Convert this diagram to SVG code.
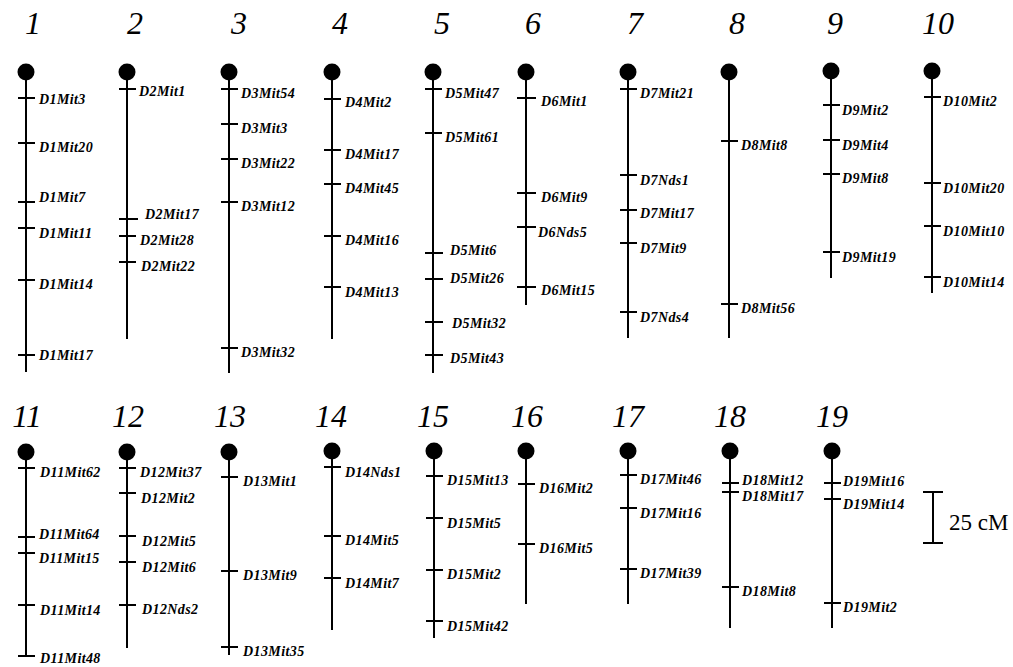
<svg xmlns="http://www.w3.org/2000/svg" width="1013" height="667" viewBox="0 0 1013 667">
<style>
.bg{fill:#fff}
.chr{stroke:#000;stroke-width:2;fill:none}
.cen{fill:#000}
.num{font-family:"Liberation Serif",serif;font-style:italic;font-size:32px;text-anchor:middle;fill:#000}
.lab{font-family:"Liberation Serif",serif;font-style:italic;font-weight:bold;font-size:14px;letter-spacing:0.4px;fill:#000}
.scale{font-family:"Liberation Serif",serif;font-size:23px;fill:#000}
</style>
<rect class="bg" x="0" y="0" width="1013" height="667"/>
<g id="chr1">
<text class="num" x="33" y="34">1</text>
<circle class="cen" cx="26" cy="72" r="8.5"/>
<path class="chr" d="M26 72V372M18 98h17M18 143h17M18 202h17M18 228h17M18 280h17M18 355h17"/>
<text class="lab" x="39" y="104">D1Mit3</text>
<text class="lab" x="39" y="152">D1Mit20</text>
<text class="lab" x="39" y="202">D1Mit7</text>
<text class="lab" x="39" y="238">D1Mit11</text>
<text class="lab" x="39" y="289">D1Mit14</text>
<text class="lab" x="39" y="360">D1Mit17</text>
</g>
<g id="chr2">
<text class="num" x="135" y="34">2</text>
<circle class="cen" cx="127" cy="72" r="8.5"/>
<path class="chr" d="M127 72V339M119 89h17M119 219h19M119 236h17M119 262h17"/>
<text class="lab" x="139" y="96">D2Mit1</text>
<text class="lab" x="145" y="219">D2Mit17</text>
<text class="lab" x="140" y="245">D2Mit28</text>
<text class="lab" x="141" y="271">D2Mit22</text>
</g>
<g id="chr3">
<text class="num" x="239" y="34">3</text>
<circle class="cen" cx="229" cy="72" r="8.5"/>
<path class="chr" d="M229 72V373M221 89h17M221 124h17M221 159h17M221 202h17M221 348h17"/>
<text class="lab" x="241" y="98">D3Mit54</text>
<text class="lab" x="241" y="133">D3Mit3</text>
<text class="lab" x="241" y="168">D3Mit22</text>
<text class="lab" x="241" y="211">D3Mit12</text>
<text class="lab" x="241" y="357">D3Mit32</text>
</g>
<g id="chr4">
<text class="num" x="340" y="34">4</text>
<circle class="cen" cx="332" cy="72" r="8.5"/>
<path class="chr" d="M332 72V339M324 99h17M324 150h17M324 184h17M324 236h17M324 287h17"/>
<text class="lab" x="345" y="107">D4Mit2</text>
<text class="lab" x="345" y="159">D4Mit17</text>
<text class="lab" x="345" y="193">D4Mit45</text>
<text class="lab" x="345" y="245">D4Mit16</text>
<text class="lab" x="345" y="297">D4Mit13</text>
</g>
<g id="chr5">
<text class="num" x="442" y="34">5</text>
<circle class="cen" cx="433" cy="72" r="8.5"/>
<path class="chr" d="M433 72V373M425 89h17M425 133h17M425 253h18M425 279h18M425 322h18M425 355h18"/>
<text class="lab" x="445" y="98">D5Mit47</text>
<text class="lab" x="445" y="142">D5Mit61</text>
<text class="lab" x="450" y="255">D5Mit6</text>
<text class="lab" x="450" y="283">D5Mit26</text>
<text class="lab" x="452" y="328">D5Mit32</text>
<text class="lab" x="450" y="363">D5Mit43</text>
</g>
<g id="chr6">
<text class="num" x="533" y="34">6</text>
<circle class="cen" cx="526" cy="72" r="8.5"/>
<path class="chr" d="M526 72V305M517 98h19M517 193h19M517 227h19M517 287h19"/>
<text class="lab" x="541" y="106">D6Mit1</text>
<text class="lab" x="541" y="202">D6Mit9</text>
<text class="lab" x="538" y="237">D6Nds5</text>
<text class="lab" x="541" y="295">D6Mit15</text>
</g>
<g id="chr7">
<text class="num" x="635" y="34">7</text>
<circle class="cen" cx="628" cy="72" r="8.5"/>
<path class="chr" d="M628 72V338M620 89h17M620 175h17M620 210h17M620 243h17M620 312h17"/>
<text class="lab" x="640" y="98">D7Mit21</text>
<text class="lab" x="640" y="185">D7Nds1</text>
<text class="lab" x="640" y="218">D7Mit17</text>
<text class="lab" x="640" y="253">D7Mit9</text>
<text class="lab" x="640" y="322">D7Nds4</text>
</g>
<g id="chr8">
<text class="num" x="737" y="34">8</text>
<circle class="cen" cx="729" cy="72" r="8.5"/>
<path class="chr" d="M729 72V338M721 141h17M721 304h17"/>
<text class="lab" x="741" y="150">D8Mit8</text>
<text class="lab" x="741" y="313">D8Mit56</text>
</g>
<g id="chr9">
<text class="num" x="835" y="34">9</text>
<circle class="cen" cx="831" cy="71" r="8.5"/>
<path class="chr" d="M831 71V278M823 105h17M823 140h17M823 174h17M823 252h17"/>
<text class="lab" x="842" y="115">D9Mit2</text>
<text class="lab" x="842" y="150">D9Mit4</text>
<text class="lab" x="842" y="183">D9Mit8</text>
<text class="lab" x="842" y="262">D9Mit19</text>
</g>
<g id="chr10">
<text class="num" x="938" y="34">10</text>
<circle class="cen" cx="932" cy="71" r="8.5"/>
<path class="chr" d="M932 71V293M924 97h17M924 183h17M924 226h17M924 277h17"/>
<text class="lab" x="943" y="106">D10Mit2</text>
<text class="lab" x="943" y="193">D10Mit20</text>
<text class="lab" x="943" y="236">D10Mit10</text>
<text class="lab" x="943" y="287">D10Mit14</text>
</g>
<g id="chr11">
<text class="num" x="27" y="427">11</text>
<circle class="cen" cx="26" cy="452" r="8.5"/>
<path class="chr" d="M26 452V656M18 468h17M18 537h17M18 553h17M18 605h17M18 656h17"/>
<text class="lab" x="40" y="477">D11Mit62</text>
<text class="lab" x="39" y="539">D11Mit64</text>
<text class="lab" x="39" y="563">D11Mit15</text>
<text class="lab" x="40" y="615">D11Mit14</text>
<text class="lab" x="40" y="663">D11Mit48</text>
</g>
<g id="chr12">
<text class="num" x="128" y="427">12</text>
<circle class="cen" cx="127" cy="452" r="8.5"/>
<path class="chr" d="M127 452V648M119 468h17M119 493h17M119 536h17M119 562h17M119 605h17"/>
<text class="lab" x="140" y="477">D12Mit37</text>
<text class="lab" x="141" y="503">D12Mit2</text>
<text class="lab" x="142" y="546">D12Mit5</text>
<text class="lab" x="142" y="572">D12Mit6</text>
<text class="lab" x="142" y="614">D12Nds2</text>
</g>
<g id="chr13">
<text class="num" x="230" y="427">13</text>
<circle class="cen" cx="229" cy="452" r="8.5"/>
<path class="chr" d="M229 452V655M221 477h17M221 571h17M221 647h17"/>
<text class="lab" x="243" y="486">D13Mit1</text>
<text class="lab" x="243" y="580">D13Mit9</text>
<text class="lab" x="243" y="656">D13Mit35</text>
</g>
<g id="chr14">
<text class="num" x="331" y="427">14</text>
<circle class="cen" cx="332" cy="451" r="8.5"/>
<path class="chr" d="M332 451V630M324 467h17M324 536h17M324 578h17"/>
<text class="lab" x="345" y="477">D14Nds1</text>
<text class="lab" x="345" y="545">D14Mit5</text>
<text class="lab" x="345" y="588">D14Mit7</text>
</g>
<g id="chr15">
<text class="num" x="433" y="427">15</text>
<circle class="cen" cx="434" cy="451" r="8.5"/>
<path class="chr" d="M434 451V638M426 476h17M426 518h17M426 570h17M426 621h17"/>
<text class="lab" x="447" y="485">D15Mit13</text>
<text class="lab" x="447" y="528">D15Mit5</text>
<text class="lab" x="447" y="579">D15Mit2</text>
<text class="lab" x="447" y="631">D15Mit42</text>
</g>
<g id="chr16">
<text class="num" x="527" y="427">16</text>
<circle class="cen" cx="526" cy="451" r="8.5"/>
<path class="chr" d="M526 451V604M518 484h17M518 544h17"/>
<text class="lab" x="539" y="493">D16Mit2</text>
<text class="lab" x="539" y="553">D16Mit5</text>
</g>
<g id="chr17">
<text class="num" x="628" y="427">17</text>
<circle class="cen" cx="628" cy="451" r="8.5"/>
<path class="chr" d="M628 451V604M620 475h17M620 508h17M620 569h17"/>
<text class="lab" x="640" y="484">D17Mit46</text>
<text class="lab" x="640" y="518">D17Mit16</text>
<text class="lab" x="640" y="578">D17Mit39</text>
</g>
<g id="chr18">
<text class="num" x="730" y="427">18</text>
<circle class="cen" cx="730" cy="451" r="8.5"/>
<path class="chr" d="M730 451V628M722 483h17M722 492h17M722 587h17"/>
<text class="lab" x="742" y="485">D18Mit12</text>
<text class="lab" x="742" y="501">D18Mit17</text>
<text class="lab" x="742" y="596">D18Mit8</text>
</g>
<g id="chr19">
<text class="num" x="832" y="427">19</text>
<circle class="cen" cx="832" cy="451" r="8.5"/>
<path class="chr" d="M832 451V628M824 483h17M824 499h17M824 603h17"/>
<text class="lab" x="843" y="486">D19Mit16</text>
<text class="lab" x="843" y="509">D19Mit14</text>
<text class="lab" x="843" y="612">D19Mit2</text>
</g>
<g id="scale-bar">
<path class="chr" d="M933 492V543M923 492h20M923 543h20"/>
<text class="scale" x="949" y="530">25 cM</text>
</g>
<g id="connectors"/>
</svg>
